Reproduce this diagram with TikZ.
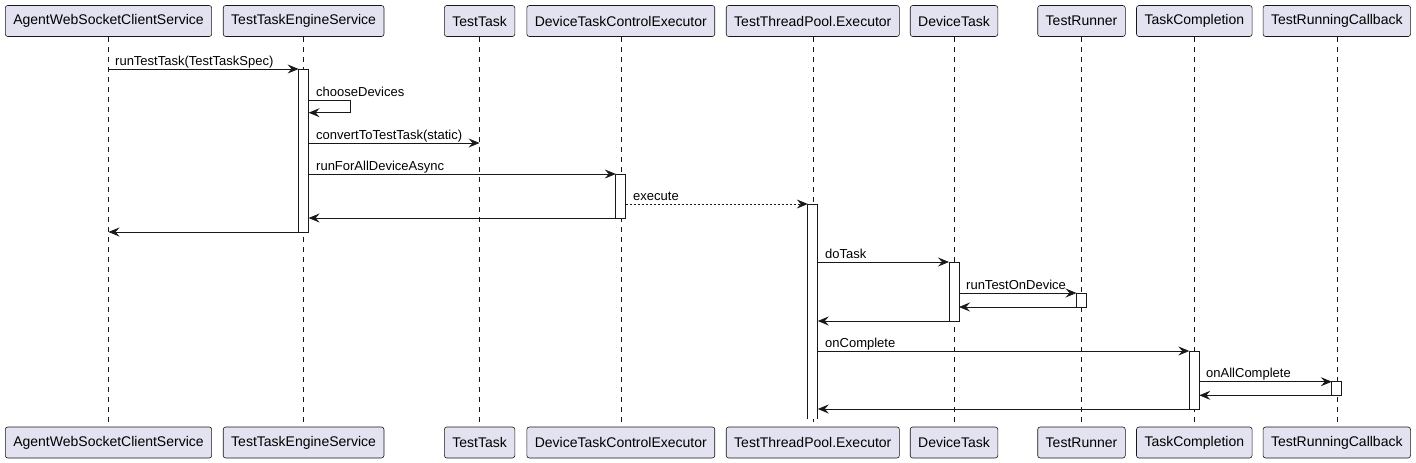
\documentclass[tikz,border=0pt]{standalone}
\usepackage{fontspec}
\setmainfont{Liberation Sans}
\usetikzlibrary{arrows.meta}
\definecolor{pfill}{HTML}{E2E2F0}
\definecolor{pline}{HTML}{181818}
\tikzset{
  part/.style={draw=pline, fill=pfill, rounded corners=2.5pt, minimum height=31pt,
    inner xsep=8pt, inner ysep=0pt, font=\fontsize{14pt}{16pt}\selectfont, line width=0.6pt},
  lifeline/.style={draw=pline, dash pattern=on 5pt off 5pt, line width=0.5pt},
  actbar/.style={draw=pline, fill=white, line width=0.8pt, minimum width=10pt,
    inner sep=0pt, outer sep=0pt, anchor=north west},
  msg/.style={draw=pline, line width=0.8pt, -{Stealth[length=11pt,width=9pt,inset=4pt]}},
  dmsg/.style={msg, dash pattern=on 2pt off 2pt},
  lbl/.style={font=\fontsize{13pt}{15pt}\selectfont, anchor=base west, inner sep=0pt}
}
\begin{document}
\begin{tikzpicture}[x=1pt,y=-1pt]
\useasboundingbox (0,0) rectangle (1416,463);
% participants (top)
\node[part] (a1) at (108.5,21) {AgentWebSocketClientService};
\node[part] (a2) at (303.6,21) {TestTaskEngineService};
\node[part] (a3) at (479.6,21) {TestTask};
\node[part] (a4) at (620.8,21) {DeviceTaskControlExecutor};
\node[part] (a5) at (812.8,21) {TestThreadPool.Executor};
\node[part] (a6) at (954,21) {DeviceTask};
\node[part] (a7) at (1081.5,21) {TestRunner};
\node[part] (a8) at (1194.3,21) {TaskCompletion};
\node[part] (a9) at (1336.8,21) {TestRunningCallback};
% participants (bottom)
\node[part] (z1) at (108.5,442.5) {AgentWebSocketClientService};
\node[part] (z2) at (303.6,442.5) {TestTaskEngineService};
\node[part] (z3) at (479.6,442.5) {TestTask};
\node[part] (z4) at (620.8,442.5) {DeviceTaskControlExecutor};
\node[part] (z5) at (812.8,442.5) {TestThreadPool.Executor};
\node[part] (z6) at (954,442.5) {DeviceTask};
\node[part] (z7) at (1081.5,442.5) {TestRunner};
\node[part] (z8) at (1194.3,442.5) {TaskCompletion};
\node[part] (z9) at (1336.8,442.5) {TestRunningCallback};
% lifelines
\foreach \i in {1,...,9} { \draw[lifeline] (a\i.south) -- (z\i.north); }
% activation bars
\node[actbar, minimum height=163pt] (b2) at (298.6,69) {};
\node[actbar, minimum height=44pt] (b4) at (615.8,174) {};
\fill[white] (807.8,204) rectangle (817.8,419);
\draw[pline, line width=0.8pt] (807.8,419) -- (807.8,204) -- (817.8,204) -- (817.8,419);
\coordinate (b5nw) at (807.8,204);
\node[actbar, minimum height=59pt] (b6) at (949,262) {};
\node[actbar, minimum height=14pt] (b7) at (1076.5,293) {};
\node[actbar, minimum height=58pt] (b8) at (1189.3,351) {};
\node[actbar, minimum height=13.6pt] (b9) at (1331.8,381.7) {};
% message end points
\coordinate (m1) at (108.5,69);
\coordinate (m2) at (308.6,100.7);
\coordinate (m3a) at (308.6,143);
\coordinate (m3b) at (479.6,143);
\coordinate (m4) at (308.6,174);
\coordinate (m5) at (625.8,204);
\coordinate (m6) at (308.6,218);
\coordinate (m7) at (108.5,232);
\coordinate (m8) at (817.8,262);
\coordinate (m9) at (959,293);
\coordinate (m10) at (959,307);
\coordinate (m11) at (817.8,321);
\coordinate (m12) at (817.8,351);
\coordinate (m13) at (1199.3,381.7);
\coordinate (m14) at (1199.3,395.3);
\coordinate (m15) at (817.8,409);
% messages
\draw[msg] (m1) -- (b2.north west);
\draw[msg] (m2) -- ++(42,0) -- ++(0,12) -- ++(-42,0);
\draw[msg] (m3a) -- (m3b);
\draw[msg] (m4) -- (b4.north west);
\draw[dmsg] (m5) -- (b5nw);
\draw[msg] (b4.south west) -- (m6);
\draw[msg] (b2.south west) -- (m7);
\draw[msg] (m8) -- (b6.north west);
\draw[msg] (m9) -- (b7.north west);
\draw[msg] (b7.south west) -- (m10);
\draw[msg] (b6.south west) -- (m11);
\draw[msg] (m12) -- (b8.north west);
\draw[msg] (m13) -- (b9.north west);
\draw[msg] (b9.south west) -- (m14);
\draw[msg] (b8.south west) -- (m15);
% labels
\node[lbl] (l1) at (115,65) {runTestTask(TestTaskSpec)};
\node[lbl] (l2) at (316,96) {chooseDevices};
\node[lbl] (l3) at (316,139) {convertToTestTask(static)};
\node[lbl] (l4) at (316,170) {runForAllDeviceAsync};
\node[lbl] (l5) at (633,200) {execute};
\node[lbl] (l8) at (825,258) {doTask};
\node[lbl] (l9) at (966,289) {runTestOnDevice};
\node[lbl] (l12) at (825,347) {onComplete};
\node[lbl] (l13) at (1206,377.7) {onAllComplete};
\end{tikzpicture}
\end{document}
